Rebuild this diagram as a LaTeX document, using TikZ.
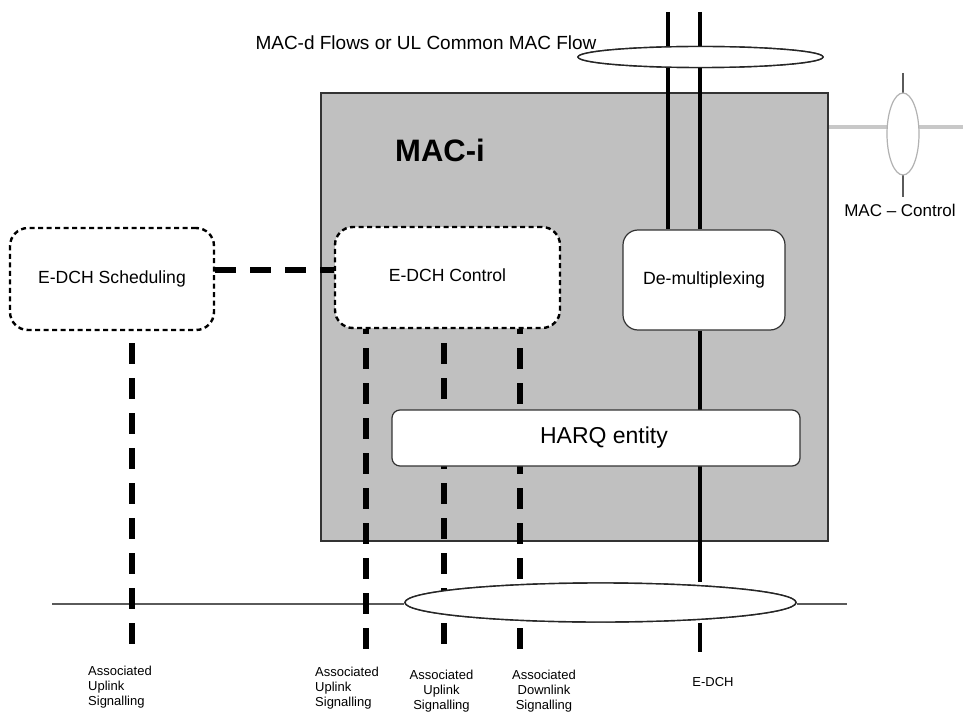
\documentclass[tikz,border=0pt]{standalone}
\usepackage{fontspec}
\setmainfont{Liberation Sans}
\usetikzlibrary{shapes.geometric}
\definecolor{macgray}{HTML}{C0C0C0}
\definecolor{ctlgray}{HTML}{C8C8C8}
\definecolor{linegray}{HTML}{5A5A5A}
\begin{document}
\begin{tikzpicture}[x=1pt,y=-1pt,
  dashbox/.style={draw=black, fill=white, line width=2.4pt, dash pattern=on 5pt off 3.5pt,
    rounded corners=18pt, inner sep=0pt, font=\fontsize{17.6}{20}\selectfont},
  solidbox/.style={draw=black!80, fill=white, line width=1.2pt, inner sep=0pt},
  flow/.style={line width=4pt, black},
  sig/.style={line width=6.5pt, black, dash pattern=on 21pt off 14pt},
  ell/.style={ellipse, draw=black!85, fill=white, line width=1.4pt, inner sep=0pt},
  small/.style={inner sep=0pt, font=\fontsize{13}{15}\selectfont},
]
\useasboundingbox[fill=white] (0,0) rectangle (963,714);

% ellipses (positions)
\path node[ell, minimum width=245pt, minimum height=21pt] (topell) at (700.5,57) {};
\path node[ell, minimum width=391pt, minimum height=39pt] (botell) at (600.5,602.5) {};
\path node[ellipse, inner sep=0pt, minimum width=32pt, minimum height=82pt] (ctlell) at (903,134) {};

% bottom horizontal line
\coordinate (hl) at (52,604);
\coordinate (hr) at (847,604);
\draw[linegray, line width=2pt] (hl) -- (hl -| botell.west);
\draw[linegray, line width=2pt] (hr -| botell.east) -- (hr);

% right gray control line
\coordinate (ctlR) at (963,127);
\coordinate (ctlL) at (828,127);
\draw[ctlgray, line width=4pt] (ctlL) -- (ctlL -| ctlell.west);
\draw[ctlgray, line width=4pt] (ctlR -| ctlell.east) -- (ctlR);
\coordinate (vt) at (903,73);
\coordinate (vb) at (903,197);
\draw[linegray, line width=1.5pt] (vt) -- (ctlell.north);
\draw[linegray, line width=1.5pt] (ctlell.south) -- (vb);
\node[ellipse, draw=black!30, fill=white, line width=1.2pt, inner sep=0pt, minimum width=32pt, minimum height=82pt] at (ctlell) {};

% MAC-i box
\node[draw=black!80, fill=macgray, line width=1.2pt, minimum width=507pt, minimum height=448pt, inner sep=0pt] (mac) at (574.5,317) {};
\node[inner sep=0pt, font=\fontsize{31}{36}\selectfont\bfseries] (maci) at (440,150) {MAC-i};

% flows
\coordinate (f1t) at (668,12);
\coordinate (f2t) at (700,12);
\coordinate (edchb) at (700,652);

% nodes
\node[dashbox, minimum width=204pt, minimum height=102pt] (sched) at (112,279) {E-DCH Scheduling};
\node[dashbox, minimum width=225pt, minimum height=101pt] (ctrl) at (447.5,277.5) {\raisebox{5pt}{E-DCH Control}};
\node[solidbox, rounded corners=15pt, minimum width=162pt, minimum height=100pt, font=\fontsize{17.7}{20}\selectfont] (demux) at (704,280) {\raisebox{4pt}{De-multiplexing}};

\draw[flow] (f1t) -- (f1t |- topell.north);
\draw[flow] (f2t) -- (f2t |- topell.north);
\draw[flow] (f1t |- topell.south) -- (f1t |- demux.north);
\draw[flow] (f2t |- topell.south) -- (f2t |- demux.north);
\draw[flow] (demux.south -| f2t) -- (f2t |- botell.north);
\draw[line width=3.5pt] (f2t |- botell.south) -- (edchb);

% signalling lines
\coordinate (s0) at (132,648);
\coordinate (s1) at (366,653);
\coordinate (s2) at (444,648);
\coordinate (s3) at (520,655);
\draw[sig, dash phase=23pt] (sched.south -| s0) -- (s0);
\draw[sig, dash phase=16pt] (ctrl.south -| s1) -- (s1);
\draw[sig, dash phase=21pt] (ctrl.south -| s2) -- (s2);
\draw[sig, dash phase=16pt] (ctrl.south -| s3) -- (s3);

% scheduling - control link
\draw[sig] ([yshift=9pt]sched.east) -- ([yshift=9pt]sched.east -| ctrl.west);

\node[solidbox, rounded corners=8pt, minimum width=408pt, minimum height=56pt, font=\fontsize{23}{26}\selectfont] (harq) at (596,438) {\hspace{16pt}HARQ entity};

% ellipses drawn on top
\node[ell, minimum width=245pt, minimum height=21pt] at (topell) {};
\node[ell, minimum width=391pt, minimum height=39pt] at (botell) {};

% texts
\node[inner sep=0pt, font=\fontsize{19}{22}\selectfont] (flowtxt) at (426,43) {MAC-d Flows or UL Common MAC Flow};
\node[inner sep=0pt, font=\fontsize{17}{20}\selectfont] (ctltxt) at (900,210) {MAC – Control};

\node[small, anchor=north west, align=left] (l0) at (88,666) {Associated\\Uplink\\Signalling};
\node[small, anchor=north west, align=left] (l1) at (315,667) {Associated\\Uplink\\Signalling};
\node[small, anchor=north, align=center] (l2) at (441.5,670) {Associated\\Uplink\\Signalling};
\node[small, anchor=north, align=center] (l3) at (544,670) {Associated\\Downlink\\Signalling};
\node[small] (l4) at (713,682) {E-DCH};
\end{tikzpicture}
\end{document}
